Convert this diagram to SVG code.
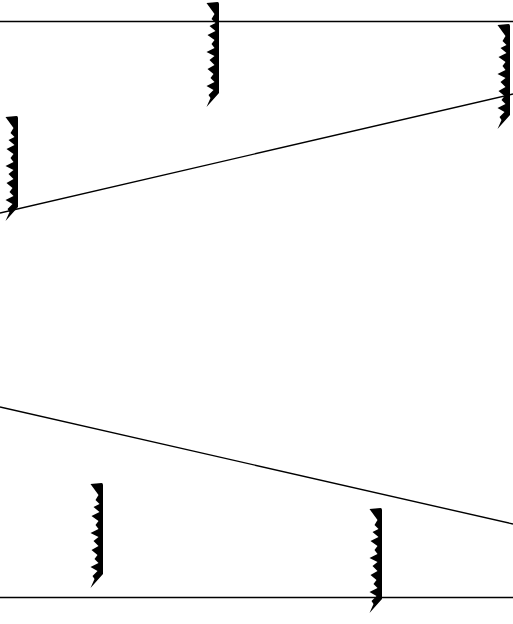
<svg xmlns="http://www.w3.org/2000/svg" width="513" height="624" viewBox="0 0 513 624">
<style>
.ln{stroke:#000;stroke-width:1.4;fill:none}
.grip{fill:#000}
</style>
<defs>
<path id="g" d="M0,1 L11,0 Q12.5,0 12.5,2 L12.5,91 L0,105 L4,96 L2,93 L7,88 L0,84 L8,80 L4,76 L7,72 L1,67 L8,63 L3,58 L8,54 L0,50 L8,46 L5,42 L8,38 L1,33 L9,29 L3,24 L9,21 L5,17 L8,12 Z"/>
</defs>
<g id="connectors">
<line class="ln" x1="0" y1="21.5" x2="513" y2="21.5"/>
<line class="ln" x1="0" y1="213" x2="513" y2="94"/>
<line class="ln" x1="0" y1="407" x2="513" y2="524"/>
<line class="ln" x1="0" y1="597.5" x2="513" y2="597.5"/>
</g>
<g id="n1"><use href="#g" class="grip" x="206.5" y="2"/></g>
<g id="n2"><use href="#g" class="grip" x="497.5" y="24"/></g>
<g id="n3"><use href="#g" class="grip" x="5.5" y="116"/></g>
<g id="n4"><use href="#g" class="grip" x="90.5" y="483"/></g>
<g id="n5"><use href="#g" class="grip" x="369.5" y="508"/></g>
</svg>
